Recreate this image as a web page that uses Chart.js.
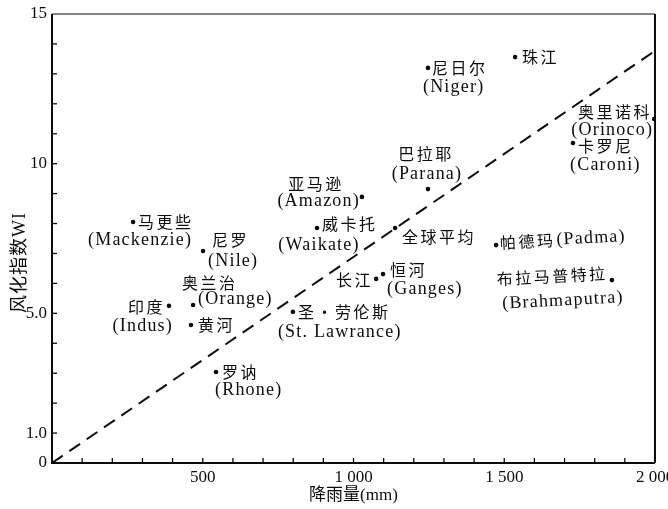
<!DOCTYPE html>
<html>
<head>
<meta charset="utf-8">
<script src="https://cdn.jsdelivr.net/npm/chart.js@4.4.1/dist/chart.umd.min.js"></script>
<style>
  html, body { margin: 0; padding: 0; background: #fff; }
  #wrap { width: 668px; height: 509px; }
</style>
</head>
<body>
<div id="wrap"><canvas id="chart" width="668" height="509"></canvas></div>
<script>
// Rivers: Chinese name, English name, mean annual rainfall (mm), weathering index WI
const riversZh = ['马更些', '尼罗', '奥兰治', '印度', '黄河', '圣·劳伦斯', '亚马逊', '威卡托', '巴拉耶', '全球平均',
                  '长江', '恒河', '尼日尔', '珠江', '奥里诺科', '卡罗尼', '帕德玛', '布拉马普特拉', '罗讷'];
const riversEn = ['(Mackenzie)', '(Nile)', '(Orange)', '(Indus)', '', '(St. Lawrance)', '(Amazon)', '(Waikate)', '(Parana)', '',
                  '', '(Ganges)', '(Niger)', '', '(Orinoco)', '(Caroni)', '(Padma)', '(Brahmaputra)', '(Rhone)'];
const rainfall   = [269, 501, 468, 388, 461, 799, 1028, 879, 1247, 1138,
                    1075, 1098, 1247, 1536, 1997, 1728, 1473, 1857, 544];
const weathering = [8.05, 7.08, 5.28, 5.25, 4.61, 5.05, 8.89, 7.85, 9.15, 7.85,
                    6.15, 6.31, 13.20, 13.56, 11.49, 10.69, 7.28, 6.11, 3.04];

// Dashed reference line through the origin
const trendRain = [0, 2000];
const trendWI   = [0, 13.77];

// Axis ticks and titles
const xTicks     = [500, 1000, 1500, 2000];
const xTickText  = ['500', '1 000', '1 500', '2 000'];
const yTicks     = [0, 1, 5, 10, 15];
const yTickText  = ['0', '1.0', '5.0', '10', '15'];
const xTitle = '降雨量(mm)';
const yTitle = '风化指数WI';

const INK = '#0c0c0c';
const SERIF = "'Liberation Serif', 'DejaVu Serif', serif";
const MIXED = "'Liberation Serif', 'Noto Sans CJK SC', serif";
const CJK = "'Noto Sans CJK SC', sans-serif";

// Where each river's two label lines sit relative to its dot:
// [dx, dy, textAlign]; 'after' continues on the Chinese line.
const labelPlacement = [
  { zh: [5, 0, 'left'],     en: [7, 18, 'center'] },
  { zh: [9, -11, 'left'],   en: [5, 10, 'left'] },
  { zh: [-11, -22, 'left'], en: [5, -6, 'left'] },
  { zh: [-4, 1, 'right'],   en: [4, 20, 'right'] },
  { zh: [7, 0, 'left'] },
  { zh: [5, 0, 'left'],     en: [-15, 20, 'left'] },
  { zh: [-46, -13, 'center'], en: [-2, 4, 'right'] },
  { zh: [5, -4, 'left'],    en: [2, 17, 'center'] },
  { zh: [-2, -35, 'center'], en: [-1, -15, 'center'] },
  { zh: [7, 9, 'left'] },
  { zh: [-3, 1, 'right'] },
  { zh: [7, -4, 'left'],    en: [4, 15, 'left'] },
  { zh: [4, 0, 'left'],     en: [-5, 19, 'left'] },
  { zh: [7, 0, 'left'] },
  { zh: [-2, -7, 'right'],  en: [-1, 11, 'right'] },
  { zh: [5, 3, 'left'],     en: [-3, 22, 'left'] },
  { zh: [4, -2, 'left'],    en: [1, 0, 'after'], rot: -3 },
  { zh: [-4, -7, 'right'],  en: [-50, 18, 'center'], rot: -3 },
  { zh: [6, 0, 'left'],     en: [-1, 18, 'left'] }
];

const riverLabels = {
  id: 'riverLabels',
  afterDatasetsDraw(chart) {
    const ctx = chart.ctx;
    const meta = chart.getDatasetMeta(0);
    meta.data.forEach((pt, i) => {
      const p = labelPlacement[i];
      ctx.save();
      ctx.translate(pt.x, pt.y);
      if (p.rot) ctx.rotate(p.rot * Math.PI / 180);
      ctx.fillStyle = INK;
      ctx.textBaseline = 'middle';
      ctx.font = '16px ' + CJK;
      ctx.letterSpacing = '2.5px';
      ctx.textAlign = p.zh[2];
      ctx.fillText(riversZh[i], p.zh[0], p.zh[1]);
      const zhW = ctx.measureText(riversZh[i]).width;
      if (riversEn[i] && p.en) {
        ctx.font = '18px ' + SERIF;
        ctx.letterSpacing = '1.2px';
        if (p.en[2] === 'after') {
          ctx.textAlign = 'left';
          ctx.fillText(riversEn[i], p.zh[0] + zhW + p.en[0], p.zh[1] + p.en[1]);
        } else {
          ctx.textAlign = p.en[2];
          ctx.fillText(riversEn[i], p.en[0], p.en[1]);
        }
      }
      ctx.restore();
    });
  }
};

// Frame, inward tick marks and the vertical axis title
const frame = {
  id: 'frame',
  afterDraw(chart) {
    const { ctx, chartArea: a, scales: { x, y } } = chart;
    ctx.save();
    ctx.strokeStyle = INK;
    ctx.lineCap = 'butt';
    ctx.lineWidth = 1.2;
    ctx.beginPath(); ctx.moveTo(a.left, a.top); ctx.lineTo(a.right, a.top); ctx.stroke();
    ctx.lineWidth = 2;
    ctx.beginPath(); ctx.moveTo(a.right, a.top); ctx.lineTo(a.right, a.bottom); ctx.stroke();
    ctx.beginPath(); ctx.moveTo(a.left, a.top); ctx.lineTo(a.left, a.bottom); ctx.lineTo(a.right, a.bottom); ctx.stroke();
    ctx.lineWidth = 1.3;
    for (let v = 100; v < 2000; v += 100) {
      const px = x.getPixelForValue(v);
      ctx.beginPath(); ctx.moveTo(px, a.bottom); ctx.lineTo(px, a.bottom - 5); ctx.stroke();
    }
    for (let v = 1; v < 15; v += 1) {
      const py = y.getPixelForValue(v);
      ctx.beginPath(); ctx.moveTo(a.left, py); ctx.lineTo(a.left + 5, py); ctx.stroke();
    }
    // y title, reading bottom to top
    ctx.translate(20, y.getPixelForValue(6.7));
    ctx.rotate(-Math.PI / 2);
    ctx.fillStyle = INK;
    ctx.font = '18px ' + MIXED;
    ctx.letterSpacing = '1px';
    ctx.textAlign = 'center';
    ctx.textBaseline = 'middle';
    ctx.fillText(yTitle, 0, 0);
    ctx.restore();
  }
};

new Chart(document.getElementById('chart'), {
  type: 'scatter',
  data: {
    datasets: [
      {
        label: '河流',
        data: rainfall.map((r, i) => ({ x: r, y: weathering[i] })),
        pointRadius: 2.3,
        pointBackgroundColor: INK,
        pointBorderWidth: 0
      },
      {
        type: 'line',
        label: '趋势',
        data: trendRain.map((r, i) => ({ x: r, y: trendWI[i] })),
        borderColor: INK,
        borderWidth: 2,
        borderDash: [13, 8],
        pointRadius: 0,
        fill: false
      }
    ]
  },
  options: {
    responsive: false,
    animation: false,
    events: [],
    layout: { padding: { top: 14, right: 13, left: 0, bottom: 0 } },
    plugins: { legend: { display: false }, tooltip: { enabled: false } },
    scales: {
      x: {
        type: 'linear',
        min: 0, max: 2000,
        afterBuildTicks: s => { s.ticks = xTicks.map(v => ({ value: v })); },
        afterFit: s => { s.height = 46; s.paddingLeft = 0; s.paddingRight = 0; },
        grid: { display: false, drawTicks: false },
        border: { display: false },
        ticks: {
          autoSkip: false, maxRotation: 0, padding: 4, color: INK,
          font: { family: SERIF, size: 17 },
          callback: (v, i) => xTickText[i]
        },
        title: {
          display: true, text: xTitle, color: INK,
          font: { family: MIXED, size: 17 },
          padding: { top: 0, bottom: 3 }
        }
      },
      y: {
        type: 'linear',
        min: 0, max: 15,
        afterBuildTicks: s => { s.ticks = yTicks.map(v => ({ value: v })); },
        afterFit: s => { s.width = 52; s.paddingTop = 0; s.paddingBottom = 0; },
        grid: { display: false, drawTicks: false },
        border: { display: false },
        ticks: {
          autoSkip: false, padding: 5, color: INK,
          font: { family: SERIF, size: 17 },
          callback: (v, i) => yTickText[i]
        },
        title: { display: false }
      }
    }
  },
  plugins: [frame, riverLabels]
});
</script>
</body>
</html>
